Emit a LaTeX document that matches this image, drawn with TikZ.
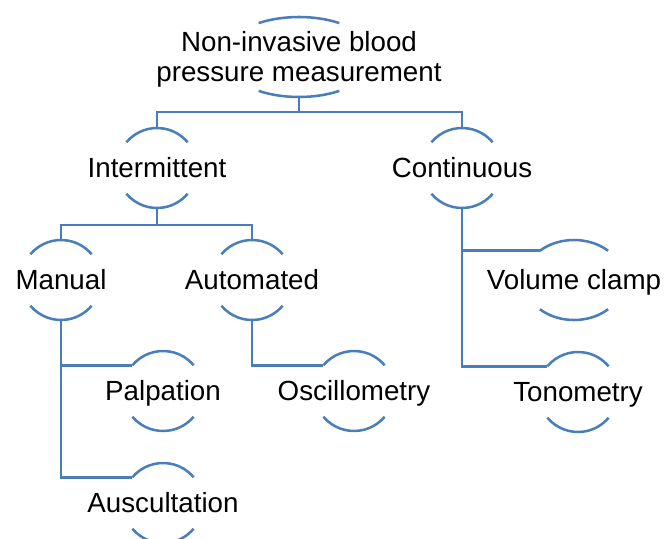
\documentclass[tikz,border=0pt]{standalone}
\usepackage{fontspec}
\setmainfont{Liberation Sans}
\definecolor{arcblue}{RGB}{74,126,187}

\begin{document}
\begin{tikzpicture}[x=0.75pt,y=0.75pt,
  blueline/.style={draw=arcblue,line width=1.9pt},
  term/.style={inner sep=0pt,font=\fontsize{20.8}{22.5}\selectfont},
  oneline/.style={term,text height=14.9pt,text depth=0pt},
  pics/caps/.style n args={3}{code={
    \draw[blueline] ({180-#3}:#1 and #2) arc[start angle={180-#3},end angle=#3,x radius=#1,y radius=#2];
    \draw[blueline] ({180+#3}:#1 and #2) arc[start angle={180+#3},end angle={360-#3},x radius=#1,y radius=#2];
    \coordinate (-t) at (0,#2);
    \coordinate (-b) at (0,-#2);
    \coordinate (-l) at ({180-#3}:#1 and #2);
  }}]
\useasboundingbox (0,0) rectangle (664,-539);
\node[term,align=center] (nibp) at (299,-59) {Non-invasive blood\\pressure measurement};
\node[oneline] (int) at (157,-168) {Intermittent};
\node[oneline] (cont) at (462,-168) {Continuous};
\node[oneline] (man) at (61,-280) {Manual};
\node[oneline] (aut) at (252,-280) {Automated};
\node[oneline] (vc) at (574,-280) {Volume clamp};
\node[oneline] (palp) at (163,-391) {Palpation};
\node[oneline] (osc) at (354,-391) {Oscillometry};
\node[oneline] (ton) at (578,-392) {Tonometry};
\node[oneline] (ausc) at (163,-503) {Auscultation};
\pic (nibp) at (299,-57) {caps={76}{40}{58}};
\pic (int) at (int) {caps={40}{40}{40}};
\pic (cont) at (cont) {caps={40}{40}{40}};
\pic (man) at (man) {caps={40}{40}{40}};
\pic (aut) at (aut) {caps={40}{40}{40}};
\pic (vc) at (vc) {caps={50}{40}{47}};
\pic (palp) at (palp) {caps={40}{40}{40}};
\pic (osc) at (osc) {caps={40}{40}{40}};
\pic (ton) at (ton) {caps={40}{40}{40}};
\pic (ausc) at (ausc) {caps={40}{40}{40}};
\draw[blueline] (nibp-b) -- ++(0,-15) coordinate (j1);
\draw[blueline] (int-t) |- (j1) -| (cont-t);
\draw[blueline] (int-b) -- ++(0,-17) coordinate (j2);
\draw[blueline] (man-t) |- (j2) -| (aut-t);
\draw[blueline] (man-b) |- (palp-l);
\draw[blueline] (man-b) |- (ausc-l);
\draw[blueline] (aut-b) |- (osc-l);
\draw[blueline] (cont-b) |- (vc-l);
\draw[blueline] (cont-b) |- (ton-l);
\end{tikzpicture}
\end{document}
